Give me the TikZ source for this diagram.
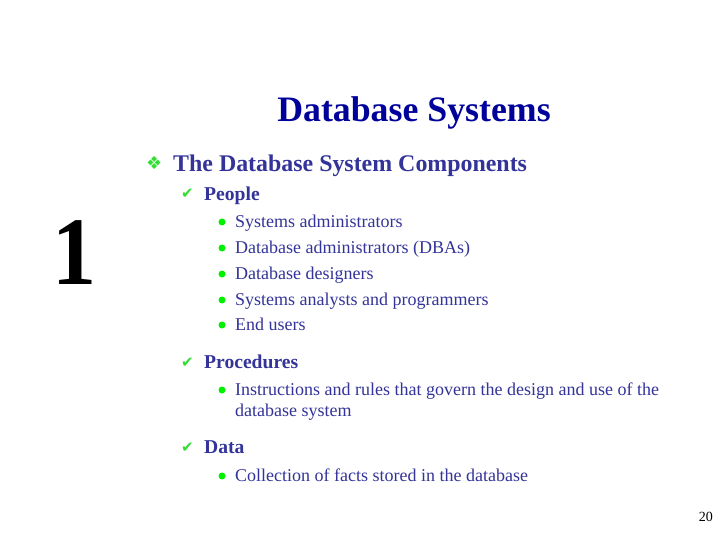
\documentclass[tikz,border=0pt]{standalone}
\usepackage{fontspec}
\usepackage{graphicx}
\setmainfont{Liberation Serif}
\newfontfamily\symfont{DejaVu Sans}
\definecolor{textblue}{HTML}{333399}
\definecolor{titleblue}{HTML}{00009A}
\definecolor{markgreen}{HTML}{33DD33}
\definecolor{dotgreen}{HTML}{00F000}
\tikzset{
  lvlone/.style={anchor=base west, inner sep=0pt, text=textblue, font=\fontsize{23.9pt}{26pt}\selectfont\bfseries},
  lvltwo/.style={anchor=base west, inner sep=0pt, text=textblue, font=\fontsize{19.6pt}{22pt}\selectfont\bfseries},
  lvlthree/.style={anchor=base west, inner sep=0pt, text=textblue, font=\fontsize{18pt}{20pt}\selectfont},
  tickmark/.style={anchor=base west, inner sep=0pt, text=markgreen, font=\fontsize{15pt}{18pt}\selectfont\symfont},
  dotnode/.style={circle, inner sep=0pt, minimum size=7pt, fill=dotgreen},
}
\begin{document}
\begin{tikzpicture}[x=1pt,y=-1pt]
\useasboundingbox (0,0) rectangle (720,540);
\node (title) at (414,122) [anchor=base, inner sep=0pt, text=titleblue, font=\fontsize{35.8pt}{38pt}\selectfont\bfseries] {Database Systems};
\node (one) at (74,284) [anchor=base, inner sep=0pt, font=\fontsize{88pt}{96pt}\selectfont\bfseries] {\scalebox{1}[1.1]{1}};
\node (lead) at (173,172) [lvlone] {The Database System Components};
\node (peopleT) at (204,201) [lvltwo] {People};
\node (a1) at (235,227) [lvlthree] {Systems administrators};
\node (a2) at (235,253) [lvlthree] {Database administrators (DBAs)};
\node (a3) at (235,279) [lvlthree] {Database designers};
\node (a4) at (235,305) [lvlthree] {Systems analysts and programmers};
\node (a5) at (235,330) [lvlthree] {End users};
\node (procT) at (204,368) [lvltwo] {Procedures};
\node (b1) at (235,395) [lvlthree] {Instructions and rules that govern the design and use of the};
\node (b2) at (235,416) [lvlthree] {database system};
\node (dataT) at (204,453) [lvltwo] {Data};
\node (c1) at (235,481) [lvlthree] {Collection of facts stored in the database};
\node (page) at (713,521) [anchor=base east, inner sep=0pt, font=\fontsize{14pt}{16pt}\selectfont] {20};
\node (lead-m) at (146,170) [tickmark, font=\fontsize{18pt}{18pt}\selectfont\symfont] {❖};
\foreach \n/\y in {peopleT/199,procT/367,dataT/452} \node (t-\n) at (181,\y) [tickmark] {✔};
\foreach \n/\y in {a1/222,a2/248,a3/274,a4/300,a5/325,b1/390,c1/476} \node (d-\n) at (222,\y) [dotnode] {};
\end{tikzpicture}
\end{document}
